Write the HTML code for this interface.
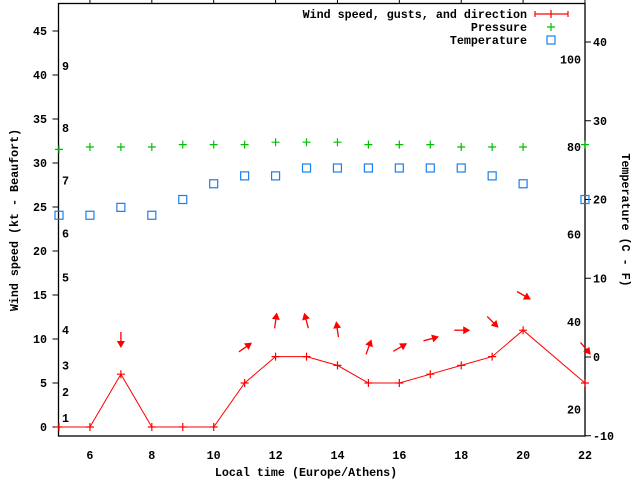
<!DOCTYPE html>
<html><head><meta charset="utf-8"><style>
html,body{margin:0;padding:0;background:#fff;}
svg{display:block;}
text{font-family:"Liberation Mono",monospace;font-weight:bold;font-size:11.7px;fill:#000;}
</style></head><body>
<svg id="chart" width="640" height="480"></svg>
<script>
const hours = [5,6,7,8,9,10,11,12,13,14,15,16,17,18,19,20,22];
const windSpeed = [0,0,6,0,0,0,5,8,8,7,5,5,6,7,8,11,5];
const gustHours = [7,11,12,13,14,15,16,17,18,19,20,22];
const gustSpeed = [10,9,12,12,11,9,9,10,11,12,15,9];
const gustBearing = [180,55,8,345,352,20,60,75,90,135,120,140];
const tempC = [18,18,19,18,20,22,23,23,24,24,24,24,24,24,23,22,20];
const pressure = [1013.6,1013.8,1013.8,1013.8,1014.0,1014.0,1014.0,1014.2,1014.2,1014.2,1014.0,1014.0,1014.0,1013.8,1013.8,1013.8,1014.0];
const windTicks = [0,5,10,15,20,25,30,35,40,45];
const xTicks = [6,8,10,12,14,16,18,20,22];
const cTicks = [-10,0,10,20,30,40];
const fTicks = [20,40,60,80,100];
const beaufortKt = [1,4,7,11,17,22,28,34,41];
const beaufortLbl = ["1","2","3","4","5","6","7","8","9"];

const L=58.5,R=585,T=3.5,B=436;
const X=h=>59+(h-5)*30.94;
const Y=k=>427-k*8.8;
const YC=c=>357-c*7.875;
const YP=p=>147-(p-1013.8)*12;
const NS="http://www.w3.org/2000/svg";
const svg=document.getElementById('chart');
function mk(tag,attrs,parent){const e=document.createElementNS(NS,tag);for(const k in attrs)e.setAttribute(k,attrs[k]);(parent||svg).appendChild(e);return e;}
function txt(x,y,s,anchor,extra){const t=mk('text',Object.assign({x:x,y:y,'text-anchor':anchor||'start'},extra||{}));t.textContent=s;return t;}

// frame
const frame=mk('rect',{x:L,y:T,width:R-L,height:B-T,fill:'none',stroke:'#000','stroke-width':1.3});



// left ticks
windTicks.forEach(v=>{
  const l=mk('line',{x1:L-6,x2:L,y1:Y(v),y2:Y(v),stroke:'#000'});
  
  
  const t=txt(47,Y(v)+4,String(v),'end');
  
  
});
// x ticks
xTicks.forEach(v=>{
  const l=mk('line',{x1:X(v),x2:X(v),y1:T-4,y2:T,stroke:'#000'});
  
  
  const t=txt(X(v),459,String(v),'middle');
  
  
});
// right C ticks
cTicks.forEach(v=>{
  const l=mk('line',{x1:R,x2:R+6,y1:YC(v),y2:YC(v),stroke:'#000'});
  
  
  const t=txt(593,YC(v)+4,String(v),'start');
  
  
});
fTicks.forEach(v=>{
  const t=txt(581,YC((v-32)*5/9)+4,String(v),'end');
  
  
});
beaufortKt.forEach((k,i)=>{
  const t=txt(62,Y(k)+4,beaufortLbl[i],'start');
  
  
});

// axis titles
let t=txt(306,476,'Local time (Europe/Athens)','middle');


t=txt(0,0,'Wind speed (kt - Beaufort)','middle',{transform:'translate(18,220) rotate(-90)'});


t=txt(0,0,'Temperature (C - F)','middle',{transform:'translate(622,220) rotate(90)'});



// pressure
function plus(x,y,c,name){
  const g=mk('path',{d:`M${x-4},${y}H${x+4}M${x},${y-4}V${y+4}`,stroke:c,'stroke-width':1.2,fill:'none'});
  
  
}
hours.forEach((h,i)=>plus(X(h),YP(pressure[i]),'#00c000','pressure-point'));
// temperature
hours.forEach((h,i)=>{
  const r=mk('rect',{x:X(h)-4,y:YC(tempC[i])-4,width:8,height:8,fill:'none',stroke:'#1a80e8','stroke-width':1.2});
  
  
});
// wind line
const pl=mk('polyline',{points:hours.map((h,i)=>X(h)+','+Y(windSpeed[i])).join(' '),fill:'none',stroke:'#f00','stroke-width':1});


hours.forEach((h,i)=>plus(X(h),Y(windSpeed[i]),'#f00','wind-speed-point'));
// gust arrows
gustHours.forEach((h,i)=>{
  const cx=X(h),cy=Y(gustSpeed[i]);
  const a=gustBearing[i]*Math.PI/180;
  const dx=Math.sin(a),dy=-Math.cos(a);
  const hx=cx+dx*7,hy=cy+dy*7,tx=cx-dx*7,ty=cy-dy*7;
  const g=mk('g',{});
  
  
  mk('line',{x1:tx,y1:ty,x2:hx,y2:hy,stroke:'#f00','stroke-width':1.3},g);
  const px=-dy,py=dx;
  mk('polygon',{points:`${hx+dx*2},${hy+dy*2} ${hx-dx*5+px*4},${hy-dy*5+py*4} ${hx-dx*5-px*4},${hy-dy*5-py*4}`,fill:'#f00'},g);
});

// legend
const lg=mk('g',{});


[['Wind speed, gusts, and direction',18],['Pressure',31],['Temperature',44]].forEach(([s,y])=>{
  const e=txt(527,y,s,'end');
  
  
});
mk('path',{d:'M535,14H568M535,11V17M568,11V17M551,10V18',stroke:'#f00','stroke-width':1.2,fill:'none'},lg);
plus(551,27,'#00c000','legend-pressure-marker');
const lr=mk('rect',{x:547,y:36,width:8,height:8,fill:'none',stroke:'#1a80e8','stroke-width':1.2});


</script>
</body></html>
